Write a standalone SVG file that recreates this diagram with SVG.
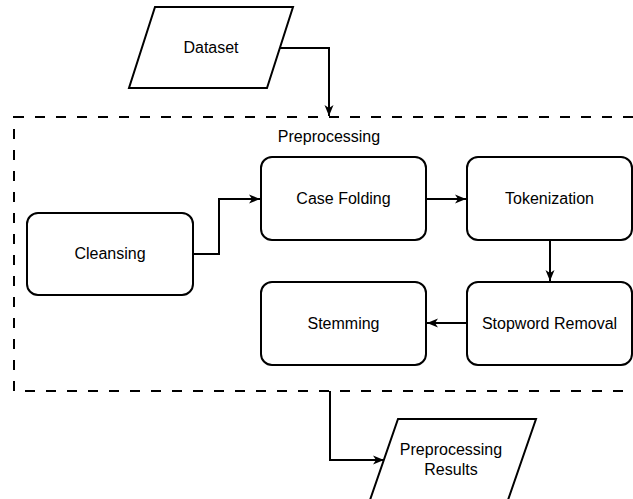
<svg xmlns="http://www.w3.org/2000/svg" width="633" height="499" viewBox="0 0 633 499">
<defs>
<style>
.box{fill:#fff;stroke:#000;stroke-width:2}
.t{font-family:"Liberation Sans",Arial,sans-serif;font-size:16px;fill:#000;text-anchor:middle}
.c{fill:none;stroke:#000;stroke-width:2}
</style>
<marker id="ah" markerUnits="userSpaceOnUse" markerWidth="12" markerHeight="12" viewBox="0 0 12 12" refX="11" refY="6" orient="auto">
<path d="M0,1.5 L11,6 L0,10.5 L3,6 Z" fill="#000"/>
</marker>
</defs>
<rect width="633" height="499" fill="#fff"/>
<g id="preprocessing">
<rect x="14" y="117" width="640" height="274" fill="none" stroke="#000" stroke-width="2" stroke-dasharray="10 11"/>
<text class="t" x="329" y="142">Preprocessing</text>
</g>
<g id="dataset">
<polygon class="box" points="155,7 293,7 267,88 129,88"/>
<text class="t" x="211" y="53">Dataset</text>
</g>
<g id="cleansing">
<rect class="box" x="27" y="213" width="166" height="82" rx="11"/>
<text class="t" x="110" y="259">Cleansing</text>
</g>
<g id="casefolding">
<rect class="box" x="261" y="157" width="165" height="83" rx="11"/>
<text class="t" x="343.5" y="204">Case Folding</text>
</g>
<g id="tokenization">
<rect class="box" x="467" y="157" width="165" height="83" rx="11"/>
<text class="t" x="549.5" y="204">Tokenization</text>
</g>
<g id="stopword">
<rect class="box" x="467" y="282" width="165" height="83" rx="11"/>
<text class="t" x="549.5" y="329">Stopword Removal</text>
</g>
<g id="stemming">
<rect class="box" x="261" y="282" width="165" height="83" rx="11"/>
<text class="t" x="343.5" y="329">Stemming</text>
</g>
<g id="results">
<polygon class="box" points="398,419 536,419 508,500 370,500"/>
<text class="t" x="451" y="455">Preprocessing</text>
<text class="t" x="451" y="475">Results</text>
</g>
<g id="connectors">
<path class="c" d="M280,48 H329 V116" marker-end="url(#ah)"/>
<path class="c" d="M193,254 H219 V199 H260" marker-end="url(#ah)"/>
<path class="c" d="M426,199 H466" marker-end="url(#ah)"/>
<path class="c" d="M550,240 V281" marker-end="url(#ah)"/>
<path class="c" d="M467,323 H427" marker-end="url(#ah)"/>
<path class="c" d="M330,391 V460 H384" marker-end="url(#ah)"/>
</g>
</svg>
